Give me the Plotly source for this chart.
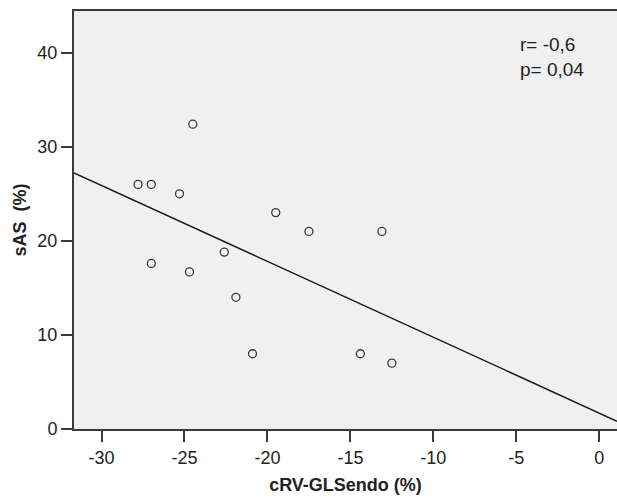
import numpy as np
import plotly.graph_objects as go

# Data
crv_glsendo = [-24.5, -27.8, -27.0, -25.3, -19.5, -17.5, -13.1,
               -22.6, -27.0, -24.7, -21.9, -20.9, -14.4, -12.5]
sas = [32.4, 26.0, 26.0, 25.0, 23.0, 21.0, 21.0,
       18.8, 17.6, 16.7, 14.0, 8.0, 8.0, 7.0]
x_ticks = [-30, -25, -20, -15, -10, -5, 0]
y_ticks = [0, 10, 20, 30, 40]
stats_text = ["r= -0,6", "p= 0,04"]
x_title = "cRV-GLSendo (%)"
y_title = "sAS  (%)"

x_range = [-31.66, 1.07]
y_range = [0, 44.43]

# Linear regression fit line
slope, intercept = np.polyfit(crv_glsendo, sas, 1)
fit_x = np.array(x_range)
fit_y = intercept + slope * fit_x

font_family = "Liberation Sans, Arial, sans-serif"
axis_color = "#3a3a3a"
text_color = "#222222"

fig = go.Figure()
fig.add_trace(go.Scatter(
    x=fit_x, y=fit_y, mode="lines",
    line=dict(color="#1a1a1a", width=1.5),
    hoverinfo="skip", showlegend=False,
))
fig.add_trace(go.Scatter(
    x=crv_glsendo, y=sas, mode="markers",
    marker=dict(symbol="circle-open", size=8, color="#383838",
                line=dict(width=1.3, color="#383838")),
    showlegend=False,
))

for txt, yv in zip(stats_text, [40.92, 38.2]):
    fig.add_annotation(
        x=-4.9, y=yv, xref="x", yref="y",
        xanchor="left", yanchor="middle", align="left",
        text=txt, showarrow=False,
        font=dict(family=font_family, size=19, color=text_color),
    )

fig.update_layout(
    width=617, height=497,
    margin=dict(l=74, r=0, t=11, b=68),
    paper_bgcolor="white",
    plot_bgcolor="#f0f0f0",
    font=dict(family=font_family, size=18, color=text_color),
)
fig.update_xaxes(
    range=x_range, tickvals=x_ticks,
    ticktext=[str(v) for v in x_ticks],
    ticks="outside", ticklen=11, tickwidth=2, tickcolor=axis_color,
    showline=True, linecolor=axis_color, linewidth=2, mirror=True,
    showgrid=False, zeroline=False,
    tickfont=dict(size=18),
    title=dict(text="<b>" + x_title + "</b>", font=dict(size=18), standoff=12),
)
fig.update_yaxes(
    range=y_range, tickvals=y_ticks,
    ticktext=[str(v) for v in y_ticks],
    ticks="outside", ticklen=11, tickwidth=2, tickcolor=axis_color,
    showline=True, linecolor=axis_color, linewidth=2, mirror=False,
    showgrid=False, zeroline=False,
    tickfont=dict(size=18),
    title=dict(text="<b>" + y_title.replace(" ", "&nbsp;") + "</b>", font=dict(size=18), standoff=6),
)

fig.write_html(
    "out.html",
    config={"displayModeBar": False},
    post_script="document.body.style.margin='0';document.body.style.overflow='hidden';",
)
